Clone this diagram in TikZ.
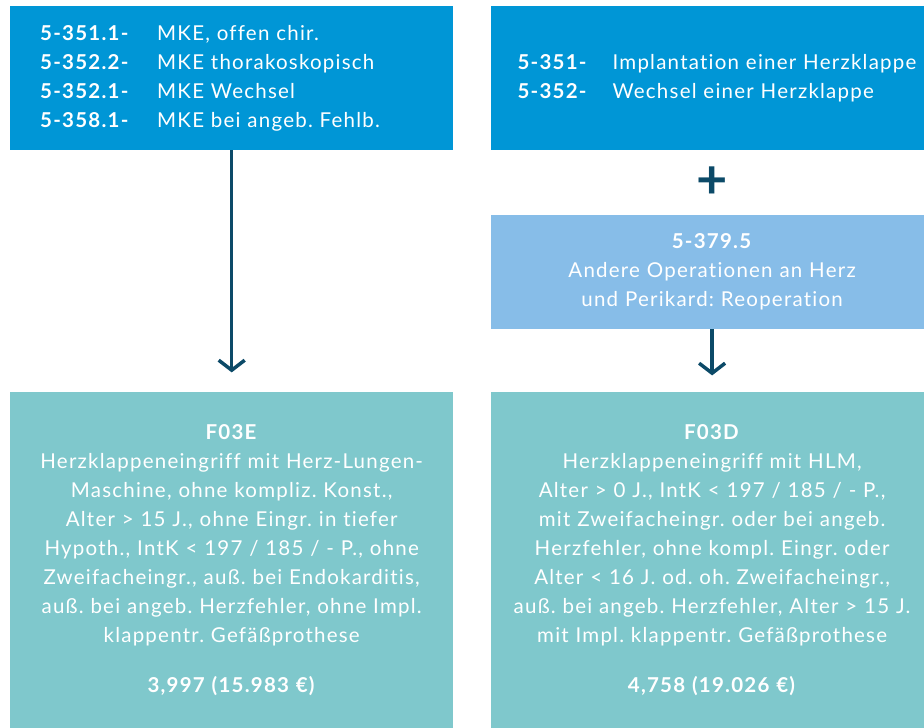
\documentclass[tikz,border=0pt]{standalone}
\usepackage{fontspec}
\setmainfont{Lato}[LetterSpace=6, Ligatures={NoCommon}]
\usepackage{xcolor}
\usepackage{tikz}
\usetikzlibrary{arrows.meta,positioning,calc}
\definecolor{codeblue}{RGB}{0, 150, 214}
\definecolor{reopblue}{RGB}{135, 189, 232}
\definecolor{drgteal}{RGB}{127, 200, 204}
\definecolor{arrowdark}{RGB}{12, 74, 104}
\newcommand{\mainsize}{\fontsize{20.5}{29}\selectfont\frenchspacing}

\begin{document}
\begin{tikzpicture}[
    x=1pt, y=1pt,
    node distance=64pt and 37pt,
    base/.style={inner sep=0pt, text=white, font=\mainsize, text width=443pt},
    codebox/.style={base, fill=codeblue, minimum height=144pt, align=left},
    reopbox/.style={base, fill=reopblue, minimum height=114pt, align=center},
    drgbox/.style={base, fill=drgteal, minimum height=337pt, align=center},
    arrow/.style={-{Straight Barb[length=10pt,width=26pt]}, line width=3.5pt, draw=arrowdark},
    plussign/.style={text=arrowdark, font=\fontsize{54}{54}\selectfont\bfseries, inner sep=0pt}
]
\useasboundingbox (0,0) rectangle (924,-728);

% Nodes
\node (mke) [codebox, anchor=north west] at (10,-6) {%
    \hspace*{30pt}\begin{tabular}{@{}p{117pt}@{}l@{}}
    \textbf{5-351.1-} & MKE, offen chir.\\
    \textbf{5-352.2-} & MKE thorakoskopisch\\
    \textbf{5-352.1-} & MKE Wechsel\\
    \textbf{5-358.1-} & MKE bei angeb. Fehlb.
    \end{tabular}
};

\node (herz) [codebox, right=37pt of mke] {%
    \hspace*{27pt}\begin{tabular}{@{}p{95pt}@{}l@{}}
    \textbf{5-351-} & Implantation einer Herzklappe\\
    \textbf{5-352-} & Wechsel einer Herzklappe
    \end{tabular}
};

\node (reop) [reopbox, below=64pt of herz] {
    \textbf{5-379.5}\\
    Andere Operationen an Herz\\
    und Perikard: Reoperation
};

\node (plus) [plussign] at ($(herz.south)!0.5!(reop.north)$) {+};

\node (f03e) [drgbox, below=241pt of mke] {
    \textbf{F03E}\\
    Herzklappeneingriff mit Herz-Lungen-\\
    Maschine, ohne kompliz. Konst.,\\
    Alter > 15 J., ohne Eingr. in tiefer\\
    Hypoth., IntK < 197 / 185 / - P., ohne\\
    Zweifacheingr., auß. bei Endokarditis,\\
    auß. bei angeb. Herzfehler, ohne Impl.\\
    klappentr. Gefäßprothese\\[21pt]
    \textbf{3,997 (15.983 €)}
};

\node (f03d) [drgbox, right=37pt of f03e] {
    \textbf{F03D}\\
    Herzklappeneingriff mit HLM,\\
    Alter > 0 J., IntK < 197 / 185 / - P.,\\
    mit Zweifacheingr. oder bei angeb.\\
    Herzfehler, ohne kompl. Eingr. oder\\
    Alter < 16 J. od. oh. Zweifacheingr.,\\
    auß. bei angeb. Herzfehler, Alter > 15 J.\\
    mit Impl. klappentr. Gefäßprothese\\[21pt]
    \textbf{4,758 (19.026 €)}
};

% Connectors
\draw [arrow, shorten >=19pt] (mke) -- (f03e);
\draw [arrow, shorten >=16pt] (reop) -- (f03d);

\end{tikzpicture}
\end{document}
